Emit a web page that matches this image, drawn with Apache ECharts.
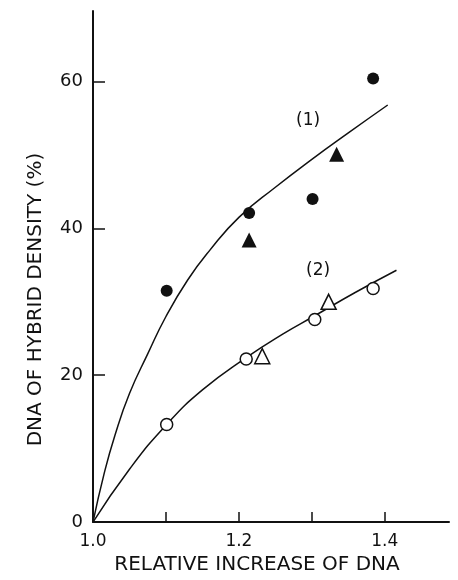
<!DOCTYPE html>
<html>
<head>
<meta charset="utf-8">
<script src="https://cdn.jsdelivr.net/npm/echarts@6/dist/echarts.min.js"></script>
<style>
  html, body { margin: 0; padding: 0; background: #fff; }
  #chart { width: 458px; height: 580px; }
</style>
</head>
<body>
<div id="chart"></div>
<script>
// curves
const curve1 = [[1.0, 0], [1.015, 6.5], [1.03, 11.8], [1.05, 17.5], [1.075, 22.9], [1.1, 28.0],
  [1.13, 33.0], [1.16, 37.0], [1.2, 41.5], [1.25, 45.6], [1.3, 49.4], [1.35, 53.0], [1.404, 56.8]];
const curve2 = [[1.0, 0], [1.05, 7.2], [1.101, 13.3], [1.15, 18.0], [1.21, 22.4], [1.26, 25.6],
  [1.304, 28.1], [1.36, 31.3], [1.416, 34.3]];

// measured points
const filledCircles = [[1.101, 31.5], [1.214, 42.1], [1.301, 44.0], [1.384, 60.4]];
const filledTriangles = [[1.214, 38.4], [1.334, 50.1]];
const openCircles = [[1.101, 13.3], [1.21, 22.2], [1.304, 27.6], [1.384, 31.8]];
const openTriangles = [[1.232, 22.6], [1.323, 30.0]];

const xTicks = [1.1, 1.2, 1.3, 1.4];
const xLabels = [1.0, 1.2, 1.4];
const yTicks = [20, 40, 60];
const yLabels = [0, 20, 40, 60];

const font = 'DejaVu Sans';
const ink = '#111';

const chart = echarts.init(document.getElementById('chart'));

const lineSeries = (data) => ({
  type: 'line',
  data: data,
  smooth: 0.5,
  showSymbol: false,
  symbol: 'none',
  lineStyle: { color: ink, width: 1.5 },
  z: 2,
  silent: true
});

const markSeries = (data, symbol, size, filled) => ({
  type: 'scatter',
  data: data,
  symbol: symbol,
  symbolSize: size,
  itemStyle: filled
    ? { color: ink, borderWidth: 0, opacity: 1 }
    : { color: '#fff', borderColor: ink, borderWidth: 1.5, opacity: 1 },
  z: 3
});

const option = {
  backgroundColor: '#fff',
  animation: false,
  grid: { left: 93, right: 9, top: 11, bottom: 52 },
  xAxis: {
    type: 'value',
    min: 1.0,
    max: 1.488,
    interval: 0.1,
    splitLine: { show: false },
    axisLine: { lineStyle: { color: ink, width: 2 } },
    axisTick: { inside: true, length: 10, lineStyle: { color: ink, width: 1.5 }, customValues: xTicks },
    axisLabel: {
      customValues: xLabels,
      formatter: v => v.toFixed(1),
      margin: 11,
      color: ink,
      fontFamily: font,
      fontSize: 17
    },
    name: 'RELATIVE INCREASE OF DNA',
    nameLocation: 'middle',
    nameGap: 31,
    nameTextStyle: { color: ink, fontFamily: font, fontSize: 20, padding: [0, 28, 0, 0] }
  },
  yAxis: {
    type: 'value',
    min: 0,
    max: 69.6,
    interval: 20,
    splitLine: { show: false },
    axisLine: { lineStyle: { color: ink, width: 2 } },
    axisTick: { inside: true, length: 12, lineStyle: { color: ink, width: 1.5 }, customValues: yTicks },
    axisLabel: {
      customValues: yLabels,
      margin: 10,
      color: ink,
      fontFamily: font,
      fontSize: 18
    },
    name: 'DNA OF HYBRID DENSITY (%)',
    nameLocation: 'middle',
    nameRotate: 90,
    nameGap: 47,
    nameTextStyle: { color: ink, fontFamily: font, fontSize: 20, padding: [0, 66, 0, 0] }
  },
  graphic: [
    { type: 'text', left: 296, top: 112, style: { text: '(1)', fill: ink, font: '17px "DejaVu Sans"' } },
    { type: 'text', left: 306, top: 262, style: { text: '(2)', fill: ink, font: '17px "DejaVu Sans"' } }
  ],
  series: [
    lineSeries(curve1),
    lineSeries(curve2),
    markSeries(filledCircles, 'circle', 12, true),
    markSeries(filledTriangles, 'triangle', 15, true),
    markSeries(openCircles, 'circle', 12, false),
    markSeries(openTriangles, 'triangle', 15, false)
  ]
};

chart.setOption(option);
</script>
</body>
</html>
